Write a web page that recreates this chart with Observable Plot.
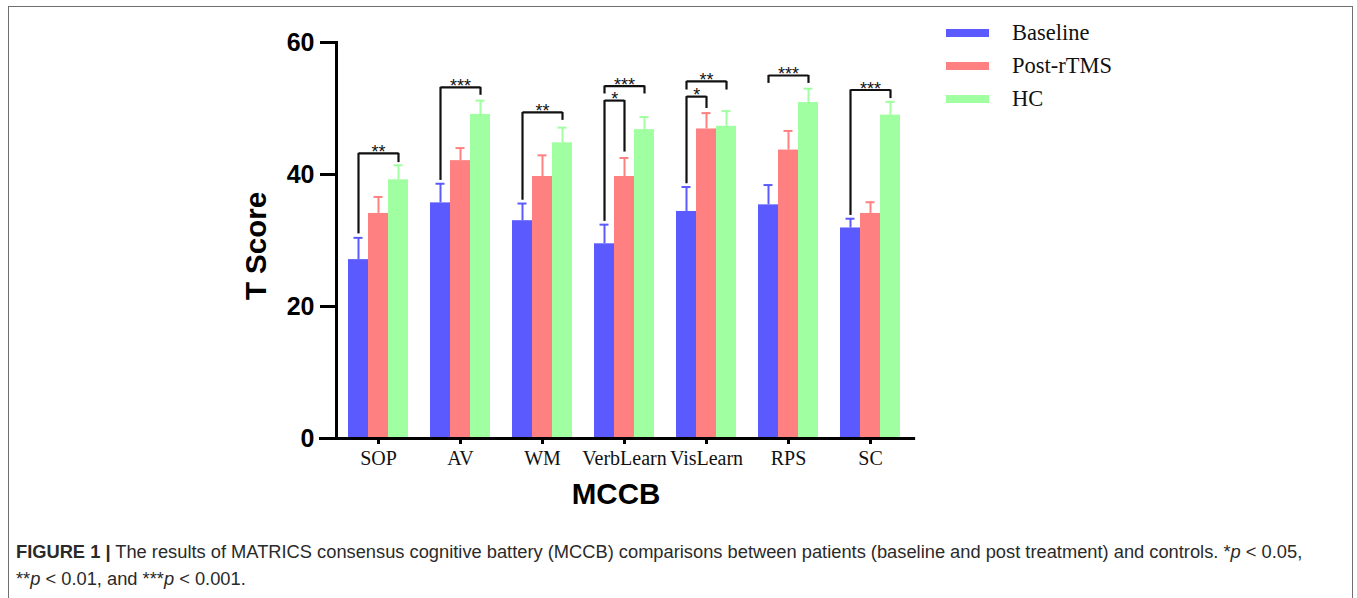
<!DOCTYPE html>
<html>
<head>
<meta charset="utf-8">
<script src="https://cdn.jsdelivr.net/npm/d3@7"></script>
<script src="https://cdn.jsdelivr.net/npm/@observablehq/plot@0.6"></script>
<style>
  html, body { margin: 0; padding: 0; background: #fff; }
  #page { position: relative; width: 1357px; height: 598px; overflow: hidden; }
  #border { position: absolute; left: 8px; top: 6px; width: 1345px; height: 700px; border: 1.5px solid #6f6f6f; box-sizing: border-box; }
  #chart { position: absolute; left: 0; top: 0; }
  .lg-sw { position: absolute; left: 946px; width: 43px; height: 8px; }
  .lg-tx { position: absolute; left: 1012px; font-family: "Liberation Serif", serif; font-size: 22.5px; color: #111; line-height: 26px; }
  .axt { position: absolute; font-family: "Liberation Sans", Arial, sans-serif; font-weight: bold; font-size: 29.5px; color: #000; white-space: nowrap; }
  #caption { position: absolute; left: 16px; top: 538px; font-family: "Liberation Sans", Arial, sans-serif; font-size: 18.3px; line-height: 27px; color: #2a2a2a; white-space: nowrap; }
</style>
</head>
<body>
<div id="page">
  <div id="border"></div>
  <div id="chart"></div>
  <div id="legend"></div>
  <div class="axt" id="ylab" style="left:256px; top:246px; transform: translate(-50%,-50%) rotate(-90deg);">T Score</div>
  <div class="axt" id="xlab" style="left:616px; top:494px; transform: translate(-50%,-50%);">MCCB</div>
  <div id="caption"><b>FIGURE 1 |</b> The results of MATRICS consensus cognitive battery (MCCB) comparisons between patients (baseline and post treatment) and controls. *<i>p</i> &lt; 0.05,<br>**<i>p</i> &lt; 0.01, and ***<i>p</i> &lt; 0.001.</div>
</div>
<script>
// ---- data ----
const categories = ["SOP", "AV", "WM", "VerbLearn", "VisLearn", "RPS", "SC"];
const series = ["Baseline", "Post-rTMS", "HC"];
const colors = ["#5a5aff", "#ff8080", "#a0ffa0"];

const baselineMean = [27.1, 35.7, 33.0, 29.5, 34.4, 35.4, 31.9];
const baselineSD   = [3.3, 2.9, 2.6, 2.9, 3.7, 3.0, 1.4];
const postMean     = [34.1, 42.1, 39.7, 39.7, 46.9, 43.7, 34.1];
const postSD       = [2.5, 1.9, 3.2, 2.8, 2.4, 2.9, 1.7];
const hcMean       = [39.2, 49.1, 44.8, 46.8, 47.3, 50.9, 49.0];
const hcSD         = [2.2, 2.1, 2.3, 1.9, 2.3, 2.1, 2.0];

const yTicks = [0, 20, 40, 60];

// significance brackets
const bracketCat   = ["SOP", "AV", "WM", "VerbLearn", "VerbLearn", "VisLearn", "VisLearn", "RPS", "SC"];
const bracketFrom  = ["Baseline", "Baseline", "Baseline", "Baseline", "Baseline", "Baseline", "Baseline", "Baseline", "Baseline"];
const bracketTo    = ["HC", "HC", "HC", "HC", "Post-rTMS", "HC", "Post-rTMS", "HC", "HC"];
const bracketY     = [43.2, 53.2, 49.4, 53.4, 51.2, 54.1, 51.8, 55.0, 52.8];
const bracketLeft  = [31.0, 39.1, 36.1, 52.2, 32.9, 52.8, 38.6, 53.8, 33.8];
const bracketRight = [41.8, 52.0, 48.2, 52.2, 43.4, 52.8, 50.0, 53.8, 51.5];
const bracketLabel = ["**", "***", "**", "***", "*", "**", "*", "***", "***"];

// ---- tables ----
const means = [baselineMean, postMean, hcMean];
const sds = [baselineSD, postSD, hcSD];
const rows = [];
categories.forEach((c, i) => series.forEach((s, j) => {
  rows.push({cat: c, series: s, mean: means[j][i], top: means[j][i] + sds[j][i]});
}));
const brackets = bracketCat.map((c, i) => ({
  cat: c, from: bracketFrom[i], to: bracketTo[i], y: bracketY[i],
  yl: bracketLeft[i], yr: bracketRight[i], label: bracketLabel[i],
  mid: bracketTo[i] === "HC" ? "Post-rTMS" : "Baseline",
  half: bracketTo[i] !== "HC"
}));

// ---- layout ----
const W = 1357, H = 520;
const mL = 319, mR = 444, mT = 42, mB = 82;
const padIn = 0.25, padOut = 0.238, align = 0.69;
const yAxisInset = 16;               // y axis line sits this far right of the x axis start
const n = categories.length;
const step = (W - mL - mR) / (n - padIn + 2 * padOut);
const barW = step * (1 - padIn) / series.length;
const firstBand = mL + ((W - mL - mR) - step * (n - padIn)) * align;
const lastBandEnd = firstBand + step * (n - padIn);
const yAxisDx = (mL + yAxisInset) - firstBand;

const font = '"Liberation Sans", Arial, sans-serif';
const serif = '"Liberation Serif", "Times New Roman", serif';

const chart = Plot.plot({
  width: W, height: H,
  marginLeft: mL, marginRight: mR, marginTop: mT, marginBottom: mB,
  style: {fontFamily: font, background: "transparent", overflow: "visible"},
  fx: {domain: categories, paddingInner: padIn, paddingOuter: padOut, align: align, label: null, axis: null},
  x: {domain: series, padding: 0, axis: null},
  y: {domain: [0, 60], axis: null},
  color: {domain: series, range: colors},
  marks: [
    Plot.ruleX(rows, {fx: "cat", x: "series", y1: "mean", y2: "top", stroke: "series", strokeWidth: 2}),
    Plot.tickY(rows, {fx: "cat", x: "series", y: "top", stroke: "series", strokeWidth: 2, insetLeft: 5.5, insetRight: 5.5}),
    Plot.barY(rows, {fx: "cat", x: "series", y: "mean", fill: "series"}),
    // brackets
    Plot.link(brackets, {fx: "cat", x1: "from", x2: "to", y1: "y", y2: "y", stroke: "#111", strokeWidth: 2.2}),
    Plot.ruleX(brackets, {fx: "cat", x: "from", y1: "yl", y2: "y", stroke: "#111", strokeWidth: 2.2}),
    Plot.ruleX(brackets, {fx: "cat", x: "to", y1: "yr", y2: "y", stroke: "#111", strokeWidth: 2.2}),
    Plot.text(brackets.filter(d => !d.half), {fx: "cat", x: "mid", y: "y", text: "label", fontSize: 18, fill: "#111", lineAnchor: "middle", dy: -1}),
    Plot.text(brackets.filter(d => d.half), {fx: "cat", x: "mid", y: "y", text: "label", fontSize: 18, fill: "#111", lineAnchor: "middle", dy: -1, dx: barW / 2}),
    // axes
    Plot.axisFx({anchor: "bottom", tickSize: 6, tickPadding: 6, strokeWidth: 3, fontSize: 20, fontFamily: serif, fill: "#111", label: null}),
    Plot.frame({facet: "super", anchor: "bottom", insetLeft: mL - firstBand, insetRight: lastBandEnd - (W - mR), strokeWidth: 3, stroke: "#000"}),
    Plot.frame({facet: "super", anchor: "left", insetLeft: yAxisDx, insetBottom: 3, strokeWidth: 3, stroke: "#000"}),
    Plot.axisY({ticks: yTicks, tickSize: yAxisInset, tickPadding: 6, dx: yAxisDx, strokeWidth: 3, fontSize: 25, fontWeight: "bold", fill: "#000", label: null})
  ]
});
document.getElementById("chart").appendChild(chart);

// legend
const lg = document.getElementById("legend");
series.forEach((s, i) => {
  const sw = document.createElement("div");
  sw.className = "lg-sw";
  sw.style.top = (29 + i * 33) + "px";
  sw.style.background = colors[i];
  lg.appendChild(sw);
  const tx = document.createElement("div");
  tx.className = "lg-tx";
  tx.style.top = (20 + i * 33) + "px";
  tx.textContent = s;
  lg.appendChild(tx);
});
</script>
</body>
</html>
